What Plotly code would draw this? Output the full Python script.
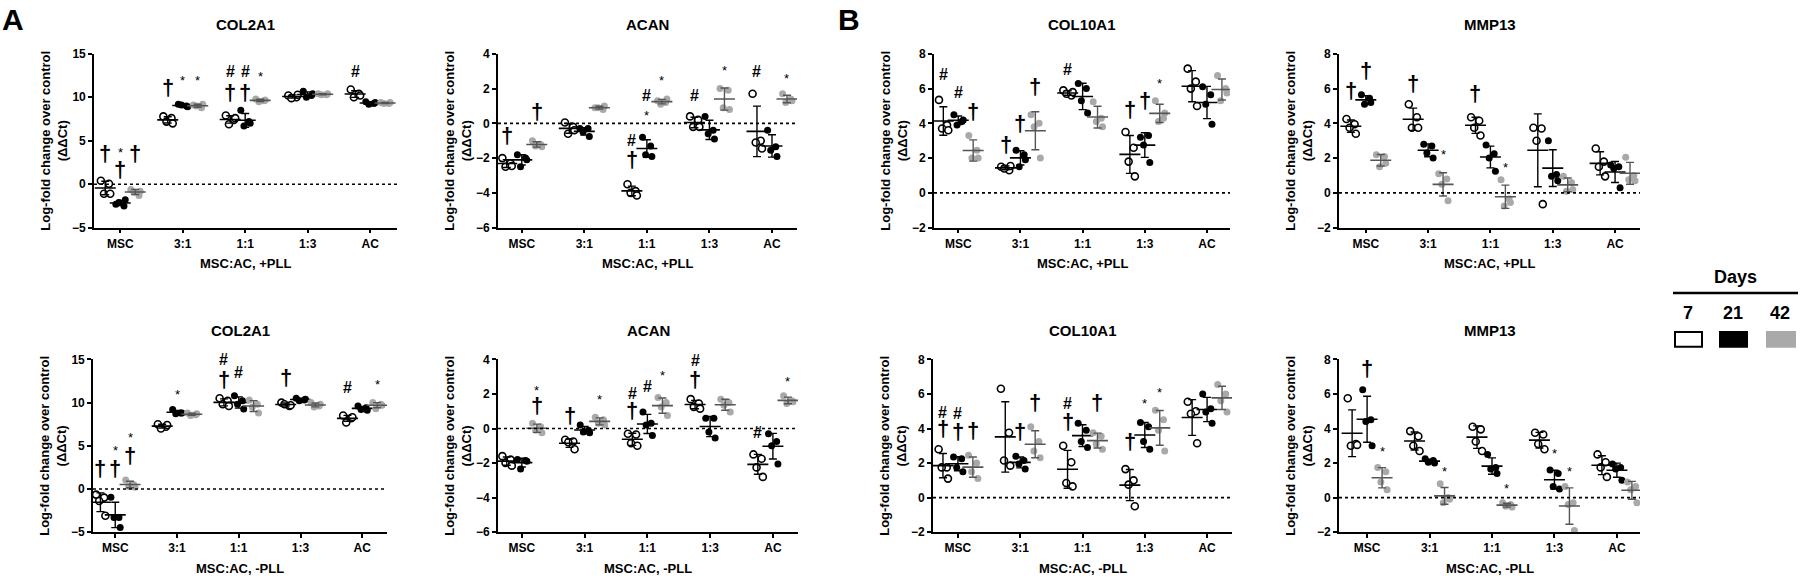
import numpy as np
import plotly.graph_objects as go

categories = ["MSC", "3:1", "1:1", "1:3", "AC"]
days = ["7", "21", "42"]
panel_titles = ["COL2A1", "ACAN", "COL10A1", "MMP13", "COL2A1", "ACAN", "COL10A1", "MMP13"]
xaxis_titles = ["MSC:AC, +PLL"] * 4 + ["MSC:AC, -PLL"] * 4
y_ranges = [[-5, 15], [-6, 4], [-2, 8], [-2, 8], [-5, 15], [-6, 4], [-2, 8], [-2, 8]]
y_dticks = [5, 2, 2, 2, 5, 2, 2, 2]

# replicate values: [category][day] -> replicates
col2a1_pll = [
    [[0.4, 0.05, -1.1, -1.1], [-2.3, -2.5, -2.1, -1.8], [-0.6, -1.3, -0.9, -0.8]],
    [[7.8, 7.6, 7.2, 7.0], [9.2, 9.0, 9.1, 8.9], [9.1, 8.8, 9.0, 9.2]],
    [[7.9, 7.4, 6.9, 7.6], [8.5, 7.2, 6.7, 7.0], [9.8, 9.6, 9.5, 9.7]],
    [[10.2, 10.0, 9.9, 10.3], [10.7, 10.2, 10.0, 10.4], [10.4, 10.3, 10.3, 10.4]],
    [[10.9, 10.4, 10.0, 10.2], [9.5, 9.3, 9.2, 9.4], [9.4, 9.3, 9.3, 9.4]],
]
acan_pll = [
    [[-2.0, -2.3, -2.5, -2.45], [-1.8, -2.0, -2.5, -2.1], [-1.0, -1.2, -1.3, -1.35]],
    [[0.05, -0.2, -0.6, -0.4], [-0.3, -0.3, -0.5, -0.75], [0.9, 0.8, 0.9, 1.0]],
    [[-3.5, -3.9, -4.0, -4.15], [-0.8, -1.3, -1.8, -1.9], [1.3, 1.2, 1.1, 1.4]],
    [[0.4, 0.2, -0.2, -0.2], [0.4, -0.4, -0.6, -0.9], [2.0, 1.9, 0.9, 0.8]],
    [[1.7, -1.0, -1.1, -1.45], [-0.4, -1.35, -1.55, -1.9], [1.7, 1.4, 1.2, 1.3]],
]
col10a1_pll = [
    [[5.35, 3.9, 3.7, 3.6], [4.5, 4.1, 3.9, 4.2], [3.3, 2.45, 2.0, 2.0]],
    [[1.5, 1.3, 1.4, 1.55], [2.45, 2.2, 1.5, 1.9], [4.5, 4.0, 3.8, 2.0]],
    [[5.9, 5.6, 5.7, 5.8], [6.3, 6.0, 5.3, 4.6], [5.25, 4.3, 4.1, 3.8]],
    [[3.5, 2.6, 1.8, 0.95], [3.2, 3.3, 2.75, 1.75], [5.3, 4.3, 4.1, 4.6]],
    [[7.15, 6.4, 6.0, 5.0], [6.1, 5.65, 5.1, 3.95], [6.75, 6.0, 5.3, 5.75]],
]
mmp13_pll = [
    [[4.25, 3.95, 3.75, 3.4], [5.65, 5.45, 5.1, 5.2], [2.2, 2.1, 1.5, 1.7]],
    [[5.1, 4.35, 3.75, 3.75], [2.8, 2.7, 2.3, 2.0], [1.1, 0.8, 0.5, -0.45]],
    [[4.35, 4.15, 3.75, 3.3], [2.75, 2.25, 2.0, 1.25], [0.75, -0.35, -0.75, -0.55]],
    [[3.75, 3.7, 3.0, -0.65], [3.0, 1.05, 0.95, 0.7], [0.95, 0.6, 0.1, 0.2]],
    [[2.55, 1.8, 1.5, 0.95], [1.6, 1.5, 1.4, 0.3], [2.05, 1.0, 0.75, 0.7]],
]
col2a1_nopll = [
    [[-0.65, -1.0, -1.4, -3.1], [-0.95, -3.3, -3.3, -4.45], [1.05, 0.5, 0.3, 0.2]],
    [[7.5, 7.2, 7.0, 7.4], [9.2, 8.8, 8.7, 8.8], [8.8, 8.6, 8.5, 8.7]],
    [[10.5, 10.2, 9.8, 9.6], [10.8, 10.2, 9.8, 9.25], [10.3, 9.8, 9.5, 8.8]],
    [[10.0, 9.6, 9.8, 9.7], [10.5, 10.3, 10.2, 10.4], [10.0, 9.6, 9.5, 9.8]],
    [[8.5, 8.2, 7.7, 8.3], [9.6, 9.4, 9.2, 9.1], [10.0, 9.8, 9.3, 9.7]],
]
acan_nopll = [
    [[-1.6, -1.8, -2.0, -2.15], [-1.8, -1.85, -2.35, -1.9], [0.3, 0.1, -0.1, -0.25]],
    [[-0.65, -0.75, -0.8, -1.2], [0.2, -0.1, -0.2, -0.25], [0.65, 0.5, 0.3, 0.2]],
    [[-0.3, -0.35, -0.85, -1.0], [0.95, 0.3, 0.2, -0.4], [1.8, 1.5, 1.25, 0.75]],
    [[1.7, 1.45, 1.25, 1.15], [0.6, 0.6, -0.2, -0.55], [1.7, 1.5, 1.35, 0.95]],
    [[-1.5, -1.75, -2.25, -2.8], [-0.3, -0.75, -1.0, -2.05], [1.9, 1.6, 1.45, 1.55]],
]
col10a1_nopll = [
    [[2.8, 1.75, 1.75, 1.1], [2.35, 2.25, 1.75, 1.5], [2.45, 2.0, 1.5, 1.1]],
    [[6.3, 3.75, 2.15, 1.85], [2.4, 2.15, 1.95, 1.65], [4.1, 3.25, 2.7, 2.3]],
    [[3.0, 2.05, 0.85, 0.65], [4.3, 3.9, 3.25, 2.9], [3.75, 3.55, 3.1, 2.8]],
    [[1.65, 1.0, 0.75, -0.5], [4.35, 4.1, 3.25, 2.8], [5.05, 4.5, 3.9, 2.7]],
    [[5.55, 5.0, 4.85, 3.15], [6.0, 5.15, 4.95, 4.3], [6.55, 6.0, 5.6, 4.95]],
]
mmp13_nopll = [
    [[5.75, 3.1, 3.0, 3.05], [6.25, 4.5, 4.4, 3.0], [1.75, 1.5, 0.9, 0.45]],
    [[3.85, 3.55, 3.0, 2.7], [2.25, 2.15, 2.05, 2.0], [0.8, 0.0, -0.3, -0.1]],
    [[4.1, 3.95, 3.25, 2.7], [2.5, 1.75, 1.65, 1.4], [-0.3, -0.4, -0.5, -0.55]],
    [[3.75, 3.65, 3.1, 2.8], [1.6, 1.4, 0.65, 0.5], [0.65, -0.3, -0.4, -1.9]],
    [[2.5, 2.05, 1.75, 1.2], [1.95, 1.75, 1.65, 1.0], [0.9, 0.65, 0.45, -0.3]],
]
panels_data = [col2a1_pll, acan_pll, col10a1_pll, mmp13_pll,
               col2a1_nopll, acan_nopll, col10a1_nopll, mmp13_nopll]

# significance marks: (category index, day index, y value, symbol)
marks_col2a1_pll = [(0, 0, 3.5, "†"), (0, 1, 1.7, "†"), (0, 1, 4.1, "*"), (0, 2, 3.5, "†"),
                    (1, 0, 11.1, "†"), (1, 1, 12.4, "*"), (1, 2, 12.4, "*"),
                    (2, 0, 10.5, "†"), (2, 0, 13.0, "#"), (2, 1, 10.5, "†"), (2, 1, 13.0, "#"),
                    (2, 2, 12.8, "*"), (4, 0, 13.0, "#")]
marks_acan_pll = [(0, 0, -0.7, "†"), (0, 2, 0.7, "†"),
                  (2, 0, -2.1, "†"), (2, 0, -1.0, "#"), (2, 1, 0.7, "*"), (2, 1, 1.6, "#"),
                  (2, 2, 2.7, "*"), (3, 0, 1.6, "#"), (3, 2, 3.3, "*"),
                  (4, 0, 3.0, "#"), (4, 2, 2.8, "*")]
marks_col10a1_pll = [(0, 0, 6.8, "#"), (0, 1, 5.75, "#"), (0, 2, 4.7, "†"),
                     (1, 0, 2.8, "†"), (1, 1, 4.0, "†"), (1, 2, 6.1, "†"),
                     (2, 0, 7.1, "#"), (3, 0, 4.8, "†"), (3, 1, 5.3, "†"), (3, 2, 6.5, "*")]
marks_mmp13_pll = [(0, 0, 5.9, "†"), (0, 1, 7.05, "†"), (1, 0, 6.3, "†"), (1, 2, 2.45, "*"),
                   (2, 0, 5.7, "†"), (2, 2, 1.7, "*")]
marks_col2a1_nopll = [(0, 0, 2.4, "†"), (0, 1, 2.4, "†"), (0, 1, 4.9, "*"), (0, 2, 3.9, "†"),
                      (0, 2, 6.4, "*"), (1, 1, 11.35, "*"), (2, 0, 12.7, "†"), (2, 0, 15.0, "#"),
                      (2, 1, 13.45, "#"), (3, 0, 12.9, "†"), (4, 0, 11.7, "#"), (4, 2, 12.5, "*")]
marks_acan_nopll = [(0, 2, 1.35, "†"), (0, 2, 2.45, "*"), (1, 0, 0.75, "†"), (1, 2, 1.9, "*"),
                    (2, 0, 1.05, "†"), (2, 0, 2.0, "#"), (2, 1, 2.45, "#"), (2, 2, 3.3, "*"),
                    (3, 0, 2.85, "†"), (3, 0, 3.95, "#"), (4, 0, -0.25, "#"), (4, 2, 2.95, "*")]
marks_col10a1_nopll = [(0, 0, 4.0, "†"), (0, 0, 4.95, "#"), (0, 1, 3.85, "†"), (0, 1, 4.85, "#"),
                       (0, 2, 3.9, "†"), (1, 1, 3.85, "†"), (1, 2, 5.5, "†"),
                       (2, 0, 4.4, "†"), (2, 0, 5.45, "#"), (2, 2, 5.5, "†"),
                       (3, 0, 3.25, "†"), (3, 1, 5.7, "*"), (3, 2, 6.3, "*")]
marks_mmp13_nopll = [(0, 1, 7.5, "†"), (0, 2, 2.9, "*"), (1, 2, 1.75, "*"), (2, 2, 0.75, "*"),
                     (3, 1, 2.8, "*"), (3, 2, 1.75, "*")]
panels_marks = [marks_col2a1_pll, marks_acan_pll, marks_col10a1_pll, marks_mmp13_pll,
                marks_col2a1_nopll, marks_acan_nopll, marks_col10a1_nopll, marks_mmp13_nopll]

# ---------------- layout / style ----------------
FW, FH = 1800, 587
FONT = "Liberation Sans"
GRAY = "#a9a9a9"


def px(X):
    return X / FW


def py(Y):
    return 1 - Y / FH


x_px = [(94, 397), (498, 797), (934, 1230), (1339, 1640),
        (93, 387), (498, 798), (933, 1232), (1339, 1640)]
y_px = [(48, 226)] * 4 + [(361, 538)] * 4
x_ranges = [[-0.42, 4.43], [-0.38, 4.4], [-0.39, 4.37], [-0.43, 4.4],
            [-0.36, 4.4], [-0.38, 4.4], [-0.4, 4.4], [-0.45, 4.37]]
group_off = [-0.24, 0.0, 0.24]
jitter = [-0.07, 0.06, -0.02, 0.08]
day_marker = [dict(color="white", line=dict(color="black", width=1.6)),
              dict(color="black", line=dict(color="black", width=0)),
              dict(color=GRAY, line=dict(color=GRAY, width=0))]
bar_color = ["black", "black", "#555555"]
sym_size = {"†": 22, "#": 16, "*": 13}
sym_shift = {"†": 0, "#": 0, "*": -4}

fig = go.Figure()
annotations = []
shapes = []
layout_axes = {}

for p in range(8):
    xa = "x" if p == 0 else f"x{p+1}"
    ya = "y" if p == 0 else f"y{p+1}"
    xk = "xaxis" if p == 0 else f"xaxis{p+1}"
    yk = "yaxis" if p == 0 else f"yaxis{p+1}"
    x0, x1 = x_px[p]
    yt, yb = y_px[p]
    dom_x = [px(x0), px(x1)]
    dom_y = [py(yb), py(yt)]
    layout_axes[xk] = dict(domain=dom_x, anchor=ya, range=x_ranges[p],
                           tickvals=list(range(len(categories))), ticktext=categories,
                           showline=True, linecolor="black", linewidth=1.6,
                           ticks="outside", ticklen=4, tickwidth=1.5, tickcolor="black",
                           showgrid=False, zeroline=False,
                           tickfont=dict(family=FONT, size=12, color="black", weight="bold"))
    layout_axes[yk] = dict(domain=dom_y, anchor=xa, range=y_ranges[p], dtick=y_dticks[p],
                           tick0=y_ranges[p][0],
                           showline=True, linecolor="black", linewidth=1.6,
                           ticks="outside", ticklen=4, tickwidth=1.5, tickcolor="black",
                           showgrid=False, zeroline=False,
                           tickfont=dict(family=FONT, size=12, color="black", weight="bold"))
    data = panels_data[p]
    for d in range(3):
        xs, ys, mx, my, sd = [], [], [], [], []
        for c in range(len(categories)):
            vals = data[c][d]
            for i, v in enumerate(vals):
                xs.append(c + group_off[d] + jitter[i % len(jitter)])
                ys.append(v)
            mx.append(c + group_off[d])
            my.append(float(np.mean(vals)))
            sd.append(float(np.std(vals, ddof=1)))
        fig.add_trace(go.Scatter(x=xs, y=ys, mode="markers", xaxis=xa, yaxis=ya,
                                 marker=dict(symbol="circle", size=7, **day_marker[d]),
                                 showlegend=False, hoverinfo="skip"))
        fig.add_trace(go.Scatter(x=mx, y=my, mode="markers", xaxis=xa, yaxis=ya,
                                 marker=dict(symbol="line-ew", size=15,
                                             line=dict(color=bar_color[d], width=1.6)),
                                 error_y=dict(type="data", array=sd, visible=True,
                                              color=bar_color[d], thickness=1.4, width=4),
                                 showlegend=False, hoverinfo="skip"))
    # zero line
    shapes.append(dict(type="line", xref=f"{xa} domain", x0=0, x1=1, yref=ya, y0=0, y1=0,
                       line=dict(color="black", width=1.6, dash="dot")))
    # significance marks
    for (c, d, yv, s) in panels_marks[p]:
        annotations.append(dict(x=c + group_off[d], y=yv, xref=xa, yref=ya, text=s,
                                showarrow=False, yanchor="middle", xanchor="center",
                                yshift=sym_shift[s],
                                font=dict(family=FONT, size=sym_size[s], color="black",
                                          weight="bold" if s != "*" else "normal")))
    # panel title
    annotations.append(dict(x=(dom_x[0] + dom_x[1]) / 2, y=py(yt - 30), xref="paper",
                            yref="paper", text=panel_titles[p], showarrow=False,
                            xanchor="center", yanchor="middle",
                            font=dict(family=FONT, size=15, color="black", weight="bold")))
    # x-axis title
    annotations.append(dict(x=(dom_x[0] + dom_x[1]) / 2, y=py(yb + 37), xref="paper",
                            yref="paper", text=xaxis_titles[p], showarrow=False,
                            xanchor="center", yanchor="middle",
                            font=dict(family=FONT, size=13, color="black", weight="bold")))
    # y-axis title
    annotations.append(dict(x=px(x0 - 40), y=(dom_y[0] + dom_y[1]) / 2, xref="paper",
                            yref="paper", text="Log-fold change over control<br>(ΔΔCt)",
                            showarrow=False, textangle=-90, xanchor="center", yanchor="middle",
                            font=dict(family=FONT, size=13, color="black", weight="bold")))

# panel letters
annotations.append(dict(x=px(0), y=py(13), xref="paper", yref="paper", text="A",
                        showarrow=False, xanchor="left", yanchor="middle",
                        font=dict(family=FONT, size=30, color="black", weight="bold")))
annotations.append(dict(x=px(836), y=py(13), xref="paper", yref="paper", text="B",
                        showarrow=False, xanchor="left", yanchor="middle",
                        font=dict(family=FONT, size=30, color="black", weight="bold")))

# legend (Days)
annotations.append(dict(x=px(1735), y=py(277), xref="paper", yref="paper", text="Days",
                        showarrow=False, xanchor="center", yanchor="middle",
                        font=dict(family=FONT, size=18, color="black", weight="bold")))
shapes.append(dict(type="line", xref="paper", yref="paper", x0=px(1673), x1=px(1798),
                   y0=py(293), y1=py(293), line=dict(color="black", width=2.5)))
leg_x = [1688, 1733, 1780]
leg_box = [(1675, 1702), (1720, 1747), (1767, 1795)]
leg_fill = ["white", "black", GRAY]
leg_line = ["black", "black", GRAY]
for i, dname in enumerate(days):
    annotations.append(dict(x=px(leg_x[i]), y=py(313), xref="paper", yref="paper",
                            text=dname, showarrow=False, xanchor="center", yanchor="middle",
                            font=dict(family=FONT, size=18, color="black", weight="bold")))
    shapes.append(dict(type="rect", xref="paper", yref="paper",
                       x0=px(leg_box[i][0]), x1=px(leg_box[i][1]),
                       y0=py(348), y1=py(333),
                       fillcolor=leg_fill[i], line=dict(color=leg_line[i], width=2)))

fig.update_layout(width=FW, height=FH, margin=dict(l=0, r=0, t=0, b=0),
                  plot_bgcolor="white", paper_bgcolor="white",
                  annotations=annotations, shapes=shapes, showlegend=False,
                  **layout_axes)
# remove the default page-body margin so the figure fills the window exactly
fig.write_html("out.html", config={"displayModeBar": False},
               post_script="document.body.style.margin='0';document.body.style.overflow='hidden';")
